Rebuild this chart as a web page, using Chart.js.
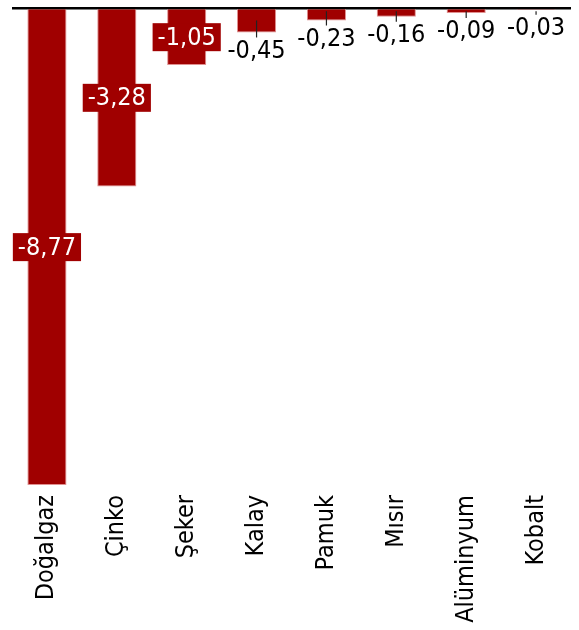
<!DOCTYPE html>
<html>
<head>
<meta charset="utf-8">
<script src="https://cdn.jsdelivr.net/npm/chart.js@4"></script>
<style>
  html, body { margin: 0; padding: 0; background: #ffffff; }
</style>
</head>
<body>
<canvas id="chart" width="579" height="630"></canvas>
<script>
const categories = ['Doğalgaz', 'Çinko', 'Şeker', 'Kalay', 'Pamuk', 'Mısır', 'Alüminyum', 'Kobalt']
const changes = [-8.77, -3.28, -1.05, -0.45, -0.23, -0.16, -0.09, -0.03]

const barColor = '#a00000'
const fontName = '"DejaVu Sans Condensed", "DejaVu Sans", sans-serif'

// etiketleri çiz (içeride kutulu, dışarıda çizgili)
const valueLabels = {
  id: 'valueLabels',
  afterDatasetsDraw(chart) {
    const ctx = chart.ctx
    const meta = chart.getDatasetMeta(0)
    ctx.save()
    ctx.font = `25px ${fontName}`
    ctx.textAlign = 'center'
    ctx.textBaseline = 'middle'
    meta.data.forEach((bar, i) => {
      const text = changes[i].toFixed(2).replace('.', ',')
      const top = Math.min(bar.y, bar.base)
      const end = Math.max(bar.y, bar.base)
      if (end - top > 40) {
        const mid = (top + end) / 2
        const w = ctx.measureText(text).width + 10
        ctx.fillStyle = barColor
        ctx.fillRect(bar.x - w / 2, mid - 14, w, 28)
        ctx.fillStyle = '#ffffff'
        ctx.fillText(text, bar.x, mid + 1)
      } else {
        ctx.strokeStyle = '#222222'
        ctx.lineWidth = 1.2
        ctx.beginPath()
        ctx.moveTo(bar.x, Math.max(top + 2, end - 12))
        ctx.lineTo(bar.x, end + 5)
        ctx.stroke()
        ctx.fillStyle = '#000000'
        ctx.fillText(text, bar.x, end + 19)
      }
    })
    ctx.restore()
  }
}

new Chart(document.getElementById('chart'), {
  type: 'bar',
  data: {
    labels: categories,
    datasets: [{
      data: changes,
      backgroundColor: barColor,
      borderColor: '#e09090',
      borderWidth: 1,
      barPercentage: 0.56,
      categoryPercentage: 1
    }]
  },
  options: {
    responsive: false,
    animation: false,
    devicePixelRatio: 1,
    layout: { padding: { left: 12, right: 8, top: 8, bottom: 0 } },
    plugins: { legend: { display: false }, tooltip: { enabled: false } },
    scales: {
      x: {
        grid: { display: false, drawTicks: false },
        border: { display: false },
        ticks: {
          color: '#000000',
          font: { family: fontName, size: 25 },
          minRotation: 90,
          maxRotation: 90,
          autoSkip: false,
          padding: 10
        },
        afterFit: s => { s.height = 145 }
      },
      y: {
        min: -8.77,
        max: 0,
        ticks: { display: false },
        grid: {
          drawTicks: false,
          color: c => c.tick.value === 0 ? '#000000' : 'rgba(0,0,0,0)',
          lineWidth: c => c.tick.value === 0 ? 2.5 : 0
        },
        border: { display: false }
      }
    }
  },
  plugins: [valueLabels]
})
</script>
</body>
</html>
